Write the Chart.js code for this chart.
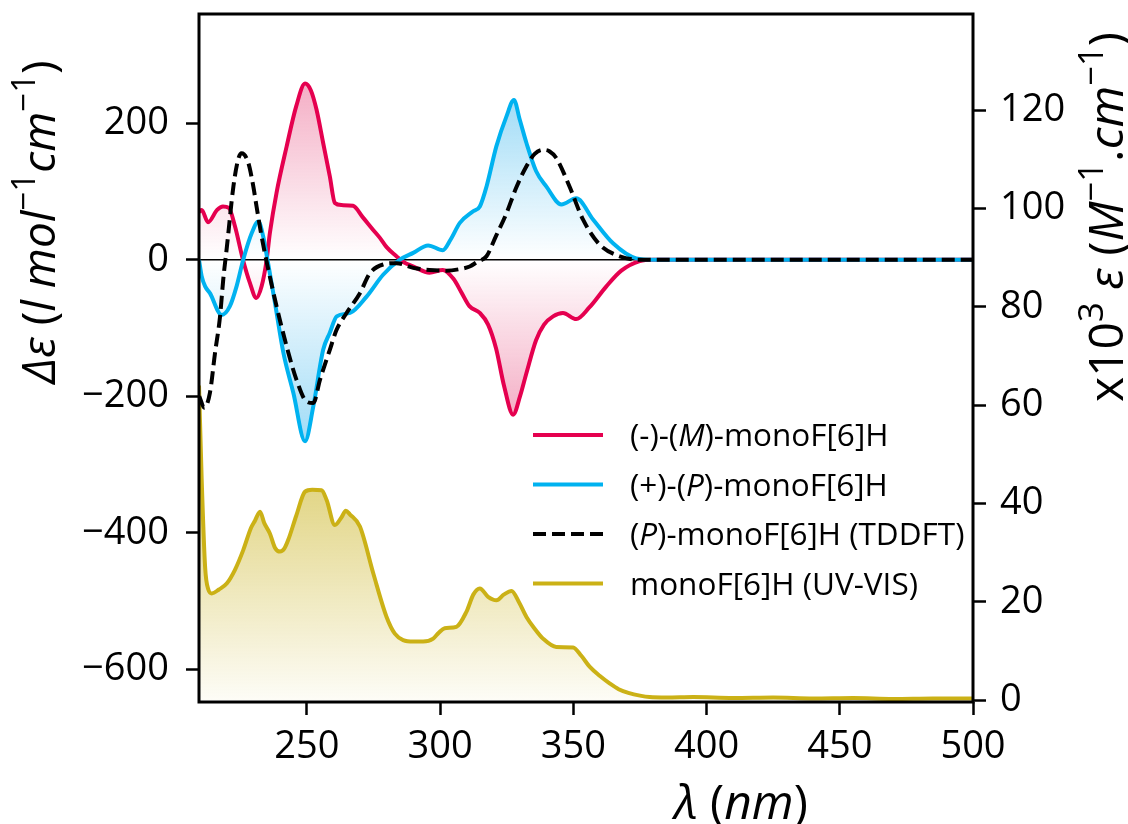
<!DOCTYPE html>
<html>
<head>
<meta charset="utf-8">
<script src="https://cdn.jsdelivr.net/npm/chart.js@4.4.1/dist/chart.umd.min.js"></script>
<style>
  html, body { margin: 0; padding: 0; background: #fff; }
  #wrap { width: 1128px; height: 824px; }
</style>
</head>
<body>
<div id="wrap"><canvas id="c" width="1128" height="824"></canvas></div>
<script>
// ---------------- DATA ----------------
const seriesLabels = ['(-)-(M)-monoF[6]H', '(+)-(P)-monoF[6]H', '(P)-monoF[6]H (TDDFT)', 'monoF[6]H (UV-VIS)'];

// (-)-(M) CD spectrum, Δε (left axis)
const lambdaM = [209.5, 210.5, 212.9, 216.3, 218.5, 220.7, 223, 226, 228.6, 231, 233, 234.9, 236.1, 238.6, 242.4, 246, 249.3, 251.5, 253.6, 256.1, 258.6, 260.5, 263, 267.3, 271, 274.8, 277.4, 280, 283.6, 286, 290, 296, 301, 305, 308, 311, 314.9, 318, 321, 324, 327.4, 330, 332.4, 336, 339, 342.4, 346.1, 351.1, 356, 362.4, 368, 374.9, 380, 400, 450, 500];
const cdM =     [70,    73,    55,    73,    78,    76,    49,  0,   -34,   -56, -39, 0,     39,    98,    166,   225, 258,   248,   220,   171,   122,   83,    80,  79,    62,  44,    32,    18,  5,     -3,  -10, -19, -15, -28, -48, -68, -78,   -95, -130, -185, -227, -200, -166, -118, -95, -83, -78, -87, -70, -39, -16, -2, 0, 0, 0, 0];

// (+)-(P) CD spectrum, Δε (left axis)
const lambdaP = [209.5, 210.5, 211.8, 213.6, 218, 221.1, 223.6, 226.1, 229.3, 231.8, 233.6, 235.2, 238, 241.2, 244.9, 249.3, 252.4, 256.1, 258.6, 261.2, 266.2, 272.4, 278.6, 284.9, 289.9, 295.5, 301, 304, 307.4, 312.4, 314.9, 317.4, 321.1, 324.9, 327.7, 329.9, 332.4, 336, 339.9, 345.5, 351.1, 357.4, 364.9, 373.6, 380, 400, 450, 500];
const cdP =     [0,     -24,   -39,   -49,   -81, -68,   -39,   0,     39,    56,    34,    0,     -63, -137,  -195,  -266,  -215,  -132,  -107,  -83,   -78,   -54,   -22,   0,     10,    21,    14,  30,  54,    71,    78,    107,   166,   210,   234,   205,   171,   130, 107,   81,    90,    59,    24,    2,     0,   0,   0,   0];

// (P) TDDFT calculated CD, Δε (left axis)
const lambdaTD = [209.6, 211.5, 213.6, 215.5, 217.4, 218.6, 220, 222.4, 224.2, 225.5, 228, 229.9, 231.1, 233, 235, 238.6, 242.4, 246.1, 249.9, 252.4, 254.9, 258.6, 261.1, 264.9, 269.9, 273.6, 278.6, 283.6, 289.9, 296, 302.4, 307, 311.1, 314, 317.4, 321, 324.9, 328.5, 332.4, 335.5, 338.6, 341, 343.6, 348.6, 353.6, 359.9, 367.4, 375, 400, 450, 500];
const cdTD =     [-200,  -217,  -195,  -137,  -83,   -29,   20,  107,   147,   156,   142, 107,   78,    34,  -5,  -68,   -127,  -176,  -208,  -210,  -176,  -132,  -103,  -78,   -49,   -20,   -7,    -5,    -12,   -15, -16,   -14, -10,   -3,  5,     35,  68,    105,   137,   155,   161,   159, 149,   107,   59,    22,    5,     0,   0,   0,   0];

// UV-VIS absorption, x10^3 ε (right axis)
const lambdaUV = [209.5, 210.5, 211.8, 213, 214.3, 217, 219.9, 223, 226.1, 229, 230.5, 232.4, 234, 236.1, 238, 239.9, 241.5, 243, 246, 249.3, 252, 255.5, 257.4, 260.5, 263, 264.6, 266.1, 269.9, 274.9, 279.9, 283, 286.1, 290, 293.6, 297.4, 299.5, 301.7, 306.1, 309.9, 312.5, 314.9, 318, 321.1, 324, 326.8, 329.5, 332.4, 335.5, 338.6, 343.6, 349.9, 353, 356.1, 360, 363.6, 367, 371, 375, 378.6, 385, 395, 410, 425, 440, 455, 470, 485, 500];
const epsUV =    [64,    45,    27,    22.5, 21.7, 22.5, 23.7, 26.5, 30.5, 35, 36.5, 38.3, 36, 33.9, 31, 30.2, 30.8, 32.6, 37.5, 42.4, 42.8, 42.7, 40.7, 35.6, 37.2, 38.5, 37.8, 35.3, 25.8, 16.9, 13.5, 12.2, 11.9, 11.9, 12.5, 13.7, 14.6, 14.9, 18, 21.5, 22.7, 21, 20.3, 21.5, 22.2, 20, 16.9, 14.5, 12.5, 10.8, 10.7, 9, 6.8, 4.9, 3.4, 2.2, 1.4, 0.9, 0.6, 0.5, 0.6, 0.4, 0.5, 0.3, 0.4, 0.2, 0.3, 0.3];

// Tick values
const xTicks = [250, 300, 350, 400, 450, 500];
const yLeftTicks = [-600, -400, -200, 0, 200];
const yRightTicks = [0, 20, 40, 60, 80, 100, 120];

// ---------------- STYLE ----------------
const FONT = '"Open Sans", "Noto Sans", "DejaVu Sans", sans-serif';
const RED = '#e5004f';
const BLUE = '#00b2f0';
const BLACK = '#000000';
const OLIVE = '#cbb116';
const LW = 4;

const toXY = (xs, ys) => xs.map((x, i) => ({ x: x, y: ys[i] }));

function symGradient(chart, rgb, alphaTop, alphaBottom, topVal, botVal) {
  const { ctx, chartArea, scales } = chart;
  if (!chartArea) return 'rgba(0,0,0,0)';
  const y0 = scales.y.getPixelForValue(0);
  const yt = scales.y.getPixelForValue(topVal);
  const yb = scales.y.getPixelForValue(botVal);
  const g = ctx.createLinearGradient(0, yt, 0, yb);
  const f = Math.min(0.999, Math.max(0.001, (y0 - yt) / (yb - yt)));
  g.addColorStop(0, 'rgba(' + rgb + ',' + alphaTop + ')');
  g.addColorStop(f, 'rgba(' + rgb + ',0)');
  g.addColorStop(1, 'rgba(' + rgb + ',' + alphaBottom + ')');
  return g;
}

// rich text helper (mixed italic / superscript)
function richWidth(ctx, segs, size) {
  let w = 0;
  for (const s of segs) {
    const sz = s.sup ? size * 0.72 : size;
    ctx.font = (s.it ? 'italic ' : '') + sz + 'px ' + FONT;
    w += ctx.measureText(s.t).width;
  }
  return w;
}
function drawRich(ctx, segs, x, y, size, align, rot) {
  ctx.save();
  ctx.translate(x, y);
  if (rot) ctx.rotate(rot);
  const total = richWidth(ctx, segs, size);
  let cx = align === 'center' ? -total / 2 : 0;
  const base = size * 0.36;
  ctx.fillStyle = '#000';
  ctx.textBaseline = 'alphabetic';
  ctx.textAlign = 'left';
  for (const s of segs) {
    const sz = s.sup ? size * 0.72 : size;
    ctx.font = (s.it ? 'italic ' : '') + sz + 'px ' + FONT;
    const yy = s.sup ? base - size * 0.42 : base;
    ctx.fillText(s.t, cx, yy);
    cx += ctx.measureText(s.t).width;
  }
  ctx.restore();
}

const legendRows = [
  { color: RED, dash: [], segs: [{ t: '(-)-(' }, { t: 'M', it: true }, { t: ')-monoF[6]H' }] },
  { color: BLUE, dash: [], segs: [{ t: '(+)-(' }, { t: 'P', it: true }, { t: ')-monoF[6]H' }] },
  { color: BLACK, dash: [13, 6], segs: [{ t: '(' }, { t: 'P', it: true }, { t: ')-monoF[6]H (TDDFT)' }] },
  { color: OLIVE, dash: [], segs: [{ t: 'monoF[6]H (UV-VIS)' }] }
];

const decorPlugin = {
  id: 'decor',
  beforeDatasetsDraw(chart) {
    const { ctx, chartArea, scales } = chart;
    const y0 = scales.y.getPixelForValue(0);
    ctx.save();
    ctx.strokeStyle = '#000';
    ctx.lineWidth = 1.5;
    ctx.beginPath();
    ctx.moveTo(chartArea.left, y0);
    ctx.lineTo(chartArea.right, y0);
    ctx.stroke();
    ctx.restore();
  },
  afterDraw(chart) {
    const { ctx, chartArea } = chart;
    ctx.save();
    ctx.strokeStyle = '#000';
    ctx.lineWidth = 3;
    ctx.strokeRect(chartArea.left, chartArea.top, chartArea.right - chartArea.left, chartArea.bottom - chartArea.top);
    const lx = 533, ly = 435, dy = 49.5;
    legendRows.forEach((r, i) => {
      const y = ly + i * dy;
      ctx.save();
      ctx.strokeStyle = r.color;
      ctx.lineWidth = LW;
      ctx.setLineDash(r.dash);
      ctx.beginPath();
      ctx.moveTo(lx, y);
      ctx.lineTo(lx + 70, y);
      ctx.stroke();
      ctx.restore();
      drawRich(ctx, r.segs, 630, y, 31.5, 'left', 0);
    });
    drawRich(ctx, [{ t: 'Δε', it: true }, { t: ' (' }, { t: 'l mol', it: true }, { t: '−1', sup: true }, { t: 'cm', it: true }, { t: '−1', sup: true }, { t: ')' }],
      38, 222, 46, 'center', -Math.PI / 2);
    drawRich(ctx, [{ t: 'x10' }, { t: '3', sup: true }, { t: ' ' }, { t: 'ε', it: true }, { t: ' (' }, { t: 'M', it: true }, { t: '−1', sup: true }, { t: '.' }, { t: 'cm', it: true }, { t: '−1', sup: true }, { t: ')' }],
      1106, 217, 48, 'center', -Math.PI / 2);
    drawRich(ctx, [{ t: 'λ', it: true }, { t: ' (' }, { t: 'nm', it: true }, { t: ')' }],
      741, 802, 48, 'center', 0);
    ctx.restore();
  }
};

const minus = v => (v < 0 ? '\u2212' + Math.abs(v) : String(v));

const tickFont = { family: FONT, size: 38 };
const gridCommon = { drawOnChartArea: false, drawTicks: true, tickLength: 13, tickWidth: 2.5, tickColor: '#000', color: '#000' };

new Chart(document.getElementById('c'), {
  type: 'line',
  data: {
    datasets: [
      {
        label: seriesLabels[2], data: toXY(lambdaTD, cdTD), yAxisID: 'y',
        borderColor: BLACK, borderWidth: LW, borderDash: [13, 6], fill: false,
        pointRadius: 0, cubicInterpolationMode: 'monotone', order: 0
      },
      {
        label: seriesLabels[1], data: toXY(lambdaP, cdP), yAxisID: 'y',
        borderColor: BLUE, borderWidth: LW, pointRadius: 0, cubicInterpolationMode: 'monotone', order: 1,
        fill: 'origin',
        backgroundColor: ctx => symGradient(ctx.chart, '64,184,238', 0.5, 0.5, 240, -268)
      },
      {
        label: seriesLabels[0], data: toXY(lambdaM, cdM), yAxisID: 'y',
        borderColor: RED, borderWidth: LW, pointRadius: 0, cubicInterpolationMode: 'monotone', order: 2,
        fill: 'origin',
        backgroundColor: ctx => symGradient(ctx.chart, '232,85,133', 0.48, 0.48, 260, -230)
      },
      {
        label: seriesLabels[3], data: toXY(lambdaUV, epsUV), yAxisID: 'y2',
        borderColor: OLIVE, borderWidth: LW, pointRadius: 0, cubicInterpolationMode: 'monotone', order: 3,
        fill: 'origin',
        backgroundColor: ctx => {
          const { chart } = ctx;
          const { chartArea, scales } = chart;
          if (!chartArea) return 'rgba(0,0,0,0)';
          const g = chart.ctx.createLinearGradient(0, scales.y2.getPixelForValue(43), 0, chartArea.bottom);
          g.addColorStop(0, 'rgba(208,188,60,0.62)');
          g.addColorStop(1, 'rgba(208,188,60,0.04)');
          return g;
        }
      }
    ]
  },
  options: {
    responsive: false,
    animation: false,
    devicePixelRatio: 1,
    layout: { padding: { top: 14, left: 0, right: 0, bottom: 0 } },
    plugins: { legend: { display: false }, tooltip: { enabled: false } },
    scales: {
      x: {
        type: 'linear', min: 209.5, max: 500, position: 'bottom',
        afterBuildTicks: s => { s.ticks = xTicks.map(v => ({ value: v })); },
        afterFit: s => { s.height = 122; s.paddingLeft = 0; s.paddingRight = 0; },
        ticks: { font: tickFont, color: '#000', padding: 9, maxRotation: 0, autoSkip: false, callback: v => String(v) },
        grid: gridCommon, border: { display: false }
      },
      y: {
        type: 'linear', min: -648, max: 360, position: 'left',
        afterBuildTicks: s => { s.ticks = yLeftTicks.map(v => ({ value: v })); },
        afterFit: s => { s.width = 199; s.paddingTop = 0; s.paddingBottom = 0; },
        ticks: { font: tickFont, color: '#000', padding: 17, autoSkip: false, callback: v => minus(v) },
        grid: gridCommon, border: { display: false }
      },
      y2: {
        type: 'linear', min: -0.4, max: 139.6, position: 'right',
        afterBuildTicks: s => { s.ticks = yRightTicks.map(v => ({ value: v })); },
        afterFit: s => { s.width = 155; s.paddingTop = 0; s.paddingBottom = 0; },
        ticks: { font: tickFont, color: '#000', padding: 14, autoSkip: false, callback: v => String(v) },
        grid: gridCommon, border: { display: false }
      }
    }
  },
  plugins: [decorPlugin]
});
</script>
</body>
</html>
